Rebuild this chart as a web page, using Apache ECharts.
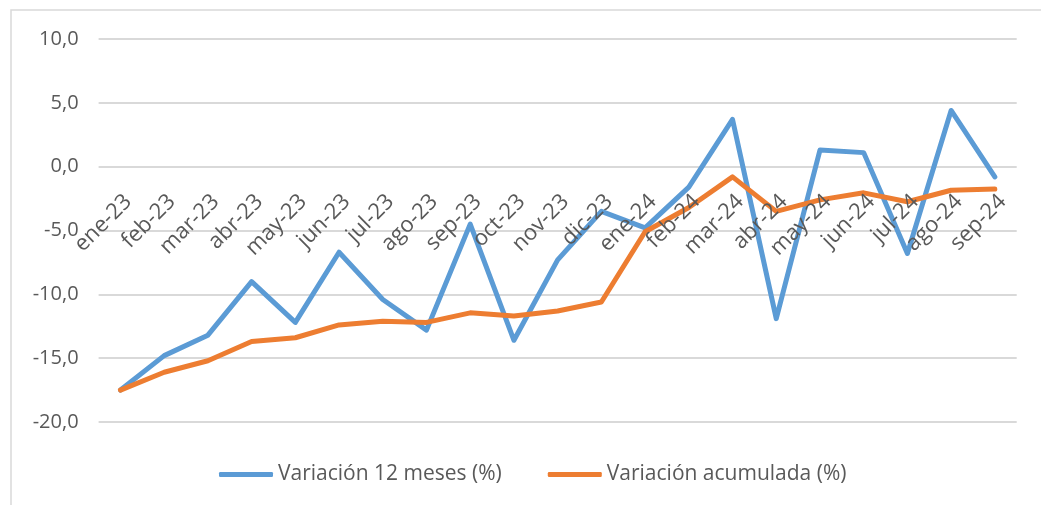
<!DOCTYPE html>
<html>
<head>
<meta charset="utf-8">
<script src="https://cdn.jsdelivr.net/npm/echarts@6/dist/echarts.min.js"></script>
<style>
  html, body { margin:0; padding:0; background:#fff; }
  #chart { width:1041px; height:505px; }
</style>
</head>
<body>
<div id="chart"></div>
<script>
// === Datos ===
const meses = ['ene-23','feb-23','mar-23','abr-23','may-23','jun-23','jul-23','ago-23','sep-23','oct-23','nov-23','dic-23',
               'ene-24','feb-24','mar-24','abr-24','may-24','jun-24','jul-24','ago-24','sep-24'];
const var12 = [-17.5, -14.8, -13.2, -9.0, -12.2, -6.7, -10.4, -12.8, -4.5, -13.6, -7.3, -3.5,
               -4.8, -1.6, 3.7, -11.9, 1.3, 1.1, -6.8, 4.4, -0.8];
const varAcum = [-17.5, -16.1, -15.2, -13.7, -13.4, -12.4, -12.1, -12.2, -11.45, -11.7, -11.3, -10.6,
                 -5.1, -3.2, -0.8, -3.5, -2.6, -2.05, -2.75, -1.85, -1.75];
const nombres = ['Variación 12 meses (%)', 'Variación acumulada (%)'];

// === Paleta ===
const blue = '#5b9bd5', orange = '#ed7d31', txt = '#595959', grid = '#d9d9d9';
const font = 'Open Sans';

const lineSerie = (name, data, color) => ({
  name, type:'line', data, symbol:'none', smooth:false, z:2,
  lineStyle:{ width:5, color, cap:'round', join:'round' },
  itemStyle:{ color }
});

const chart = echarts.init(document.getElementById('chart'), null, { renderer:'canvas' });
chart.setOption({
  animation:false,
  textStyle:{ fontFamily:font },
  grid:{ left:98.6, right:24.3, top:39, bottom:83, containLabel:false, outerBoundsMode:'none' },
  graphic:[{ type:'rect', shape:{ x:11, y:10, width:1200, height:700 },
    style:{ fill:null, stroke:grid, lineWidth:1.5 }, silent:true }],
  legend:{
    left:214, top:459, icon:'roundRect', itemWidth:54, itemHeight:5, itemGap:46,
    textStyle:{ color:txt, fontSize:21, fontFamily:font },
    data:nombres
  },
  xAxis:{
    type:'category', data:meses, boundaryGap:true, z:10,
    position:'bottom', offset:-255.5,   // eje cruza en 0 (estilo Excel)
    axisLine:{ show:false, onZero:false },
    axisTick:{ show:false },
    axisLabel:{ interval:0, rotate:45, margin:24, verticalAlign:'top',
      color:txt, fontSize:22, fontFamily:font, hideOverlap:false }
  },
  yAxis:{
    type:'value', min:-20, max:10, interval:5,
    axisLine:{ show:false }, axisTick:{ show:false },
    axisLabel:{ color:txt, fontSize:20, fontFamily:font, margin:20,
      formatter:v => v.toFixed(1).replace('.', ',') },
    splitLine:{ lineStyle:{ color:grid, width:2 } }
  },
  series:[ lineSerie(nombres[0], var12, blue), lineSerie(nombres[1], varAcum, orange) ]
});
</script>
</body>
</html>
